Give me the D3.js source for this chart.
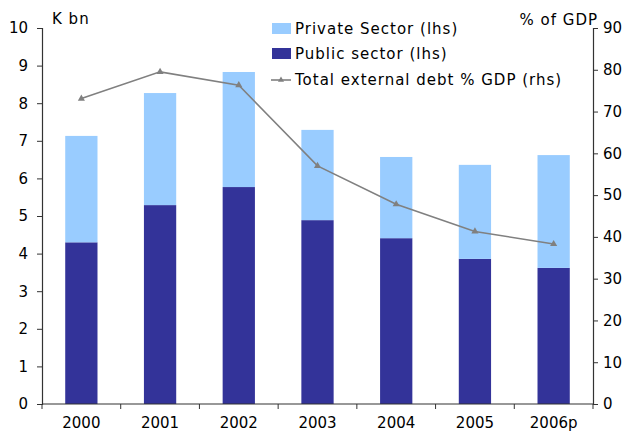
<!DOCTYPE html>
<html>
<head>
<meta charset="utf-8">
<script src="https://cdn.jsdelivr.net/npm/d3@7"></script>
<style>
  body { margin: 0; background: #fff; }
  text { font-family: "DejaVu Sans", Verdana, sans-serif; font-size: 15px; fill: #000; }
  .wide { letter-spacing: 1px; }
</style>
</head>
<body>
<div id="plot"></div>
<script>
const years = ["2000", "2001", "2002", "2003", "2004", "2005", "2006p"];
const publicSector = [4.3, 5.29, 5.77, 4.89, 4.41, 3.86, 3.62];
const privateSector = [2.83, 2.98, 3.06, 2.4, 2.16, 2.5, 3.0];
const debtGdp = [73.1, 79.5, 76.3, 57.0, 47.8, 41.3, 38.3];
const leftTicks = [0, 1, 2, 3, 4, 5, 6, 7, 8, 9, 10];
const rightTicks = [0, 10, 20, 30, 40, 50, 60, 70, 80, 90];

const svgWidth = 628, svgHeight = 432;
const plot = {left: 42, right: 593, top: 28, bottom: 404};

var svg = d3.select("#plot")
	.append("svg")
	.attr("width", svgWidth)
	.attr("height", svgHeight);

var x = d3.scaleBand()
	.domain(years)
	.range([plot.left, plot.right])
	.paddingInner(0.59)
	.paddingOuter(0.295);

var yL = d3.scaleLinear().domain([0, 10]).range([plot.bottom, plot.top]);
var yR = d3.scaleLinear().domain([0, 90]).range([plot.bottom, plot.top]);

// bars
var stacked = years.map((y, i) => ({year: y, pub: publicSector[i], priv: privateSector[i]}));

svg.append("g").selectAll("rect.pub")
	.data(stacked)
	.enter()
	.append("rect")
		.attr("x", d => x(d.year))
		.attr("width", x.bandwidth())
		.attr("y", d => yL(d.pub))
		.attr("height", d => yL(0) - yL(d.pub))
		.style("fill", "#333399");

svg.append("g").selectAll("rect.priv")
	.data(stacked)
	.enter()
	.append("rect")
		.attr("x", d => x(d.year))
		.attr("width", x.bandwidth())
		.attr("y", d => yL(d.pub + d.priv))
		.attr("height", d => yL(d.pub) - yL(d.pub + d.priv))
		.style("fill", "#99ccff");

// line
var line = d3.line()
	.x((d, i) => x(years[i]) + x.bandwidth() / 2)
	.y(d => yR(d));

svg.append("path")
	.datum(debtGdp)
	.attr("d", line)
	.attr("fill", "none")
	.attr("stroke", "#808080")
	.attr("stroke-width", 1.6);

var tri = d3.symbol().type(d3.symbolTriangle).size(22);
svg.append("g").selectAll("path")
	.data(debtGdp)
	.enter()
	.append("path")
		.attr("d", tri)
		.attr("transform", (d, i) => "translate(" + (x(years[i]) + x.bandwidth() / 2) + "," + yR(d) + ")")
		.style("fill", "#808080");

// axes
var axisColor = "#333";

var la = svg.append("g")
	.attr("transform", "translate(" + plot.left + ",0)")
	.call(d3.axisLeft(yL).tickValues(leftTicks).tickSize(5).tickPadding(9));

var ra = svg.append("g")
	.attr("transform", "translate(" + plot.right + ",0)")
	.call(d3.axisRight(yR).tickValues(rightTicks).tickSize(5).tickPadding(5));

var xa = svg.append("g")
	.attr("transform", "translate(0," + plot.bottom + ")")
	.call(d3.axisBottom(x).tickSize(0).tickPadding(13));

// category boundary ticks on x axis
var bounds = years.map(y => x(y) - x.step() * x.paddingInner() / 2);
bounds.push(plot.right);
xa.selectAll("line.bound")
	.data(bounds)
	.enter()
	.append("line")
		.attr("class", "bound")
		.attr("x1", d => d).attr("x2", d => d)
		.attr("y1", 0).attr("y2", 5);

[la, ra, xa].forEach(g => {
	g.selectAll("path.domain").attr("stroke", axisColor).attr("stroke-width", 1.2);
	g.selectAll("line").attr("stroke", axisColor);
	g.selectAll("text").attr("font-size", null).attr("font-family", null).attr("fill", "#000");
});
xa.select("path.domain").attr("d", "M" + plot.left + ",0H" + plot.right);

// axis titles
svg.append("text").attr("x", 52).attr("y", 24).attr("class", "wide").text("K bn");
svg.append("text").attr("x", 598).attr("y", 25).attr("text-anchor", "end").attr("class", "wide").text("% of GDP");

// legend
var legend = svg.append("g");
legend.append("rect").attr("x", 272).attr("y", 23).attr("width", 19).attr("height", 11).style("fill", "#99ccff");
legend.append("text").attr("x", 295).attr("y", 34).attr("class", "wide").text("Private Sector (lhs)");
legend.append("rect").attr("x", 272).attr("y", 48).attr("width", 19).attr("height", 11).style("fill", "#333399");
legend.append("text").attr("x", 295).attr("y", 59).attr("class", "wide").text("Public sector (lhs)");
legend.append("line").attr("x1", 271).attr("x2", 291).attr("y1", 80).attr("y2", 80)
	.attr("stroke", "#808080").attr("stroke-width", 1.6);
legend.append("path").attr("d", d3.symbol().type(d3.symbolTriangle).size(16))
	.attr("transform", "translate(281,80)").style("fill", "#808080");
legend.append("text").attr("x", 295).attr("y", 85).attr("class", "wide").text("Total external debt % GDP (rhs)");
</script>
</body>
</html>
